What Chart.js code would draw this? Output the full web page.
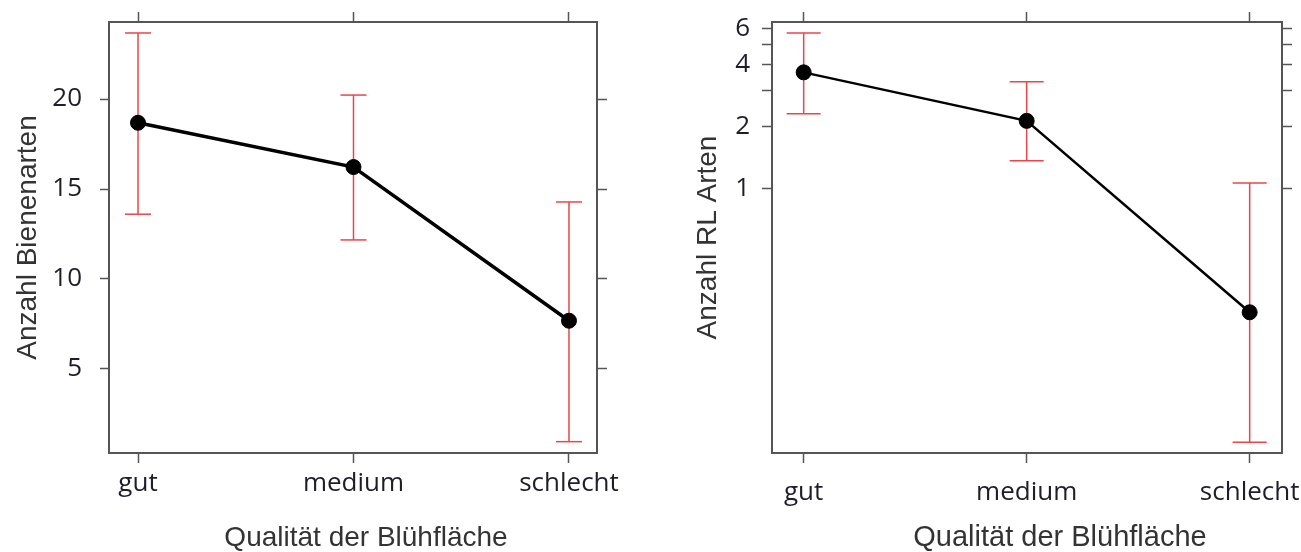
<!DOCTYPE html>
<html>
<head>
<meta charset="utf-8">
<script src="https://cdn.jsdelivr.net/npm/chart.js@4.4.1/dist/chart.umd.min.js"></script>
<style>
  html, body { margin: 0; padding: 0; background: #fff; }
  #wrap { position: relative; width: 1301px; height: 552px; overflow: hidden; }
  canvas { position: absolute; top: 0; }
  #beeChart { left: 0; }
  #rlChart { left: 650px; }
  .xtitle { position: absolute; font-family: "Liberation Sans", Arial, sans-serif; color: #333;
            white-space: nowrap; transform: translateX(-50%); line-height: 1; }
</style>
</head>
<body>
<div id="wrap">
  <canvas id="beeChart" width="650" height="552"></canvas>
  <canvas id="rlChart" width="651" height="552"></canvas>
  <div class="xtitle" style="left:366px; top:523px; font-size:28px;">Qualität der Blühfläche</div>
  <div class="xtitle" style="left:1060px; top:522px; font-size:29px;">Qualität der Blühfläche</div>
</div>
<script>
const categories = ["gut", "medium", "schlecht"];

// linkes Diagramm: Anzahl Bienenarten
const beeMean = [18.68, 16.22, 7.68];
const beeLower = [13.6, 12.17, 0.96];
const beeUpper = [23.67, 20.22, 14.28];
const beeTicks = [5, 10, 15, 20];

// rechtes Diagramm: Anzahl RL Arten (log)
const rlMean = [3.68, 2.14, 0.252];
const rlLower = [2.32, 1.37, 0.059];
const rlUpper = [5.72, 3.31, 1.07];
const rlTicks = [1, 2, 3, 4, 5, 6];
const rlTickLabels = [1, 2, 4, 6];

const tickFont = { family: "'Open Sans', sans-serif", size: 26 };
const tickColor = "#1e1e2a";
const boxColor = "#555";
const errColor = "#e8464a";

function setTicks(values) {
    return scale => { scale.ticks = values.map(v => ({ value: v })); };
}

// feste Achsenbreite/-höhe, ohne Label-Überstand
function fixSize(size) {
    return s => {
        if (s.isHorizontal()) s.height = size; else s.width = size;
        s.paddingTop = 0; s.paddingBottom = 0; s.paddingLeft = 0; s.paddingRight = 0;
    };
}

function meanSet(mean, width) {
    return {
        data: categories.map((c, i) => ({ x: i, y: mean[i] })),
        xAxisID: "x", yAxisID: "y",
        borderColor: "#000", borderWidth: width,
        pointRadius: 7.5, pointHoverRadius: 7.5,
        pointBackgroundColor: "#000", pointBorderColor: "#000", pointBorderWidth: 1
    };
}

function errorSets(lower, upper, cap) {
    return categories.map((c, i) => ({
        data: [{ x: i, y: lower[i] }, { x: i, y: upper[i] }],
        xAxisID: "x", yAxisID: "y",
        borderColor: errColor, borderWidth: 1.5,
        pointStyle: "line", pointRadius: cap, pointHoverRadius: cap,
        pointBorderColor: errColor, pointBorderWidth: 1.5
    }));
}

function sideScale(axis, pos, type, min, max, ticks, size) {
    return {
        axis: axis, type: type, position: pos, min: min, max: max, bounds: "data",
        afterBuildTicks: setTicks(ticks),
        afterFit: fixSize(size),
        ticks: { display: false },
        grid: { drawOnChartArea: false, drawTicks: true, tickLength: 10, color: boxColor, tickWidth: 1.5 },
        border: { display: true, color: boxColor, width: 2 }
    };
}

// Bienenarten
new Chart(document.getElementById("beeChart"), {
    type: "line",
    data: { datasets: [meanSet(beeMean, 3.5), ...errorSets(beeLower, beeUpper, 13)] },
    options: {
        responsive: false, animation: false,
        layout: { padding: 0 },
        plugins: { legend: { display: false }, tooltip: { enabled: false } },
        scales: {
            x: {
                type: "linear", position: "bottom", min: -0.1346, max: 2.13, bounds: "data",
                afterBuildTicks: setTicks([0, 1, 2]),
                afterFit: fixSize(99),
                ticks: { font: tickFont, color: tickColor, padding: 5, callback: v => categories[v] },
                grid: { drawOnChartArea: false, drawTicks: true, tickLength: 10, color: boxColor, tickWidth: 1.5 },
                border: { display: true, color: boxColor, width: 2 }
            },
            y: {
                type: "linear", position: "left", min: 0.33, max: 24.28, bounds: "data",
                afterBuildTicks: setTicks(beeTicks),
                afterFit: fixSize(109),
                ticks: { font: tickFont, color: tickColor, padding: 18 },
                grid: { drawOnChartArea: false, drawTicks: true, tickLength: 9, color: boxColor, tickWidth: 1.5 },
                border: { display: true, color: boxColor, width: 2 },
                title: { display: true, text: "Anzahl Bienenarten", color: "#333",
                         font: { family: "'Liberation Sans', Arial, sans-serif", size: 28 },
                         padding: { top: 11.5, bottom: 0 } }
            },
            x2: sideScale("x", "top", "linear", -0.1346, 2.13, [0, 1, 2], 22),
            y2: sideScale("y", "right", "linear", 0.33, 24.28, beeTicks, 53)
        }
    }
});

// RL Arten
new Chart(document.getElementById("rlChart"), {
    type: "line",
    data: { datasets: [meanSet(rlMean, 2.5), ...errorSets(rlLower, rlUpper, 17)] },
    options: {
        responsive: false, animation: false,
        layout: { padding: 0 },
        plugins: { legend: { display: false }, tooltip: { enabled: false } },
        scales: {
            x: {
                type: "linear", position: "bottom", min: -0.142, max: 2.145, bounds: "data",
                afterBuildTicks: setTicks([0, 1, 2]),
                afterFit: fixSize(99),
                ticks: { font: tickFont, color: tickColor, padding: 14, callback: v => categories[v] },
                grid: { drawOnChartArea: false, drawTicks: true, tickLength: 10, color: boxColor, tickWidth: 1.5 },
                border: { display: true, color: boxColor, width: 2 }
            },
            y: {
                type: "logarithmic", position: "left", min: 0.0523, max: 6.46, bounds: "data",
                afterBuildTicks: setTicks(rlTicks),
                afterFit: fixSize(122),
                ticks: { font: tickFont, color: tickColor, padding: 12,
                         callback: v => rlTickLabels.includes(v) ? String(v) : "" },
                grid: { drawOnChartArea: false, drawTicks: true, tickLength: 10, color: boxColor, tickWidth: 1.5 },
                border: { display: true, color: boxColor, width: 2 },
                title: { display: true, text: "Anzahl RL Arten", color: "#333",
                         font: { family: "'Liberation Sans', Arial, sans-serif", size: 28 },
                         padding: { top: 41.5, bottom: 0 } }
            },
            x2: sideScale("x", "top", "linear", -0.142, 2.145, [0, 1, 2], 22),
            y2: sideScale("y", "right", "logarithmic", 0.0523, 6.46, rlTicks, 19)
        }
    }
});
</script>
</body>
</html>
